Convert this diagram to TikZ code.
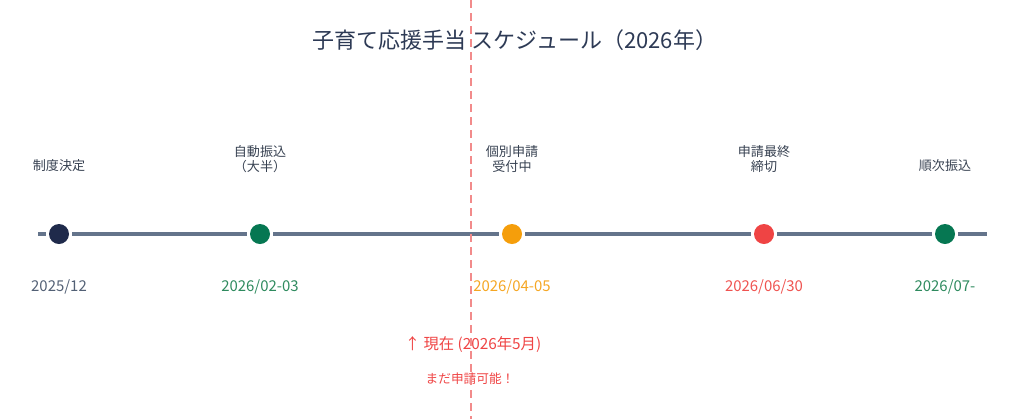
\documentclass[tikz,border=0pt]{standalone}
\usepackage{fontspec}
\setmainfont{Noto Sans CJK JP}
\definecolor{titlec}{HTML}{2D3A55}
\definecolor{labelc}{HTML}{374151}
\definecolor{linec}{HTML}{64748B}
\definecolor{navy}{HTML}{1F2A4B}
\definecolor{green}{HTML}{067752}
\definecolor{orange}{HTML}{F59E0B}
\definecolor{red}{HTML}{EF4444}
\definecolor{greyd}{HTML}{526075}
\definecolor{greend}{HTML}{2E8A5E}
\definecolor{oranged}{HTML}{F5A623}
\definecolor{redd}{HTML}{EF5350}
\definecolor{nowc}{HTML}{F28B8B}
\begin{document}
\begin{tikzpicture}[x=0.75pt, y=-0.75pt,
	dot/.style={circle, fill=#1, minimum size=15pt, inner sep=0pt, outer sep=2.5pt},
	lbl/.style={align=center, text=labelc, font=\fontsize{9.8}{11.25}\selectfont},
	date/.style={text=#1, font=\fontsize{11.2}{13}\selectfont},
	tl/.style={draw=linec, line width=3pt},
	nowline/.style={draw=nowc, line width=1.6pt, dash pattern=on 6pt off 3.75pt}]
			\useasboundingbox (0, 0) rectangle (1024, 419);

			\node[text=titlec, font=\fontsize{16.5}{19}\selectfont] (title) at (515, 40) {子育て応援手当 スケジュール（2026年）};

			\coordinate (start) at (38, 234);
			\coordinate (end) at (987, 234);
			\node[dot=navy] (decide) at (59, 234) {};
			\node[dot=green] (auto) at (260, 234) {};
			\node[dot=orange] (apply) at (512, 234) {};
			\node[dot=red] (deadline) at (764, 234) {};
			\node[dot=green] (seq) at (945, 234) {};

			\draw[tl] (start) -- (decide);
			\draw[tl] (decide) -- (auto);
			\draw[tl] (auto) -- (apply);
			\draw[tl] (apply) -- (deadline);
			\draw[tl] (deadline) -- (seq);
			\draw[tl] (seq) -- (end);

			\node[lbl] (decide l) at (59, 166) {制度決定};
			\node[lbl] (auto l) at (260, 159) {自動振込\\（大半）};
			\node[lbl] (apply l) at (512, 159) {個別申請\\受付中};
			\node[lbl] (deadline l) at (764, 159) {申請最終\\締切};
			\node[lbl] (seq l) at (945, 166) {順次振込};

			\node[date=greyd] (decide d) at (59, 287) {2025/12};
			\node[date=greend] (auto d) at (260, 287) {2026/02-03};
			\node[date=oranged] (apply d) at (512, 287) {2026/04-05};
			\node[date=redd] (deadline d) at (764, 287) {2026/06/30};
			\node[date=greend] (seq d) at (945, 287) {2026/07-};

			\node[text=red, font=\fontsize{11.5}{13}\selectfont] (now) at (473, 345) {↑ 現在 (2026年5月)};
			\node[text=red, font=\fontsize{9.5}{11}\selectfont] (still) at (470, 379) {まだ申請可能！};

			\coordinate (now top) at (471, 0);
			\coordinate (now bot) at (471, 419);
			\draw[nowline] (now top) -- (now bot);
		\end{tikzpicture}
\end{document}
